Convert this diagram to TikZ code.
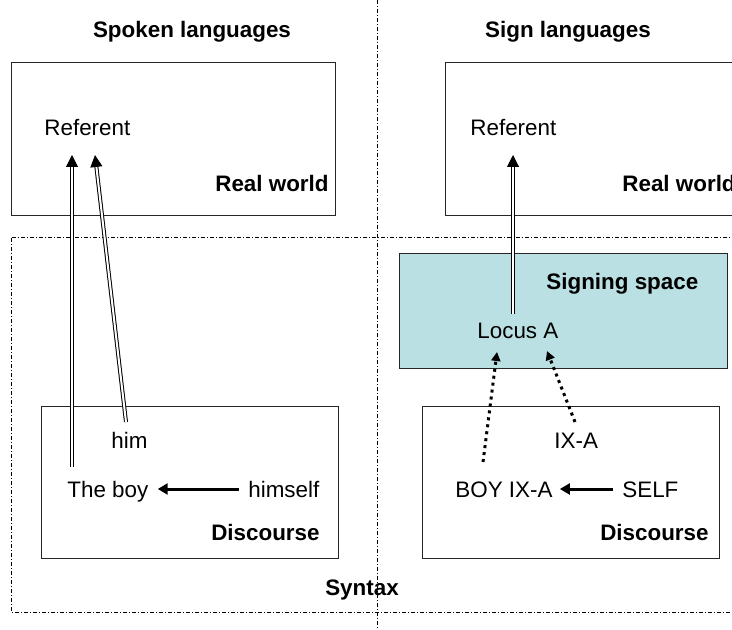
\documentclass[tikz,border=0pt]{standalone}
\usepackage{fontspec}
\setmainfont{Liberation Sans}
\usetikzlibrary{arrows.meta}
\definecolor{spacefill}{RGB}{186,224,228}

\begin{document}
\begin{tikzpicture}[x=0.5pt,y=-0.5pt]
    \tikzstyle{every node}=[font=\fontsize{11.2}{13}\selectfont, inner sep=0pt, text height=8pt, text depth=0pt]
    \tikzstyle{title}=[font=\fontsize{11.2}{13}\selectfont\bfseries]
    \tikzstyle{frame}=[draw=black!85, line width=0.5pt]
    \tikzstyle{border}=[line width=0.5pt, dash pattern=on 2pt off 1pt on 0.5pt off 1pt]
    \tikzstyle{link}=[double, double distance=1pt, line width=0.5pt, -{Triangle[length=6pt,width=6pt]}]
    \tikzstyle{refer}=[line width=1.5pt, -{Triangle[length=5pt,width=5.5pt]}]
    \tikzstyle{locate}=[line width=1.5pt, dotted, -{Triangle[length=4.5pt,width=4.5pt]}]

    \useasboundingbox (0,0) rectangle (732,630);
    \clip (0,0) rectangle (732,630);

    % the two halves
    \draw[border] (377,0) -- (377,630);
    \draw[border] (11,238) rectangle (760,612);
    \node[title] (spoken) at (192,30) {Spoken languages};
    \node[title] (sign) at (568,30) {Sign languages};
    \node[title] (syntax) at (362,587) {Syntax};

    % real world
    \draw[frame] (11,63) rectangle (335,216);
    \draw[frame] (445,63) rectangle (760,216);
    \node[anchor=west] (referent) at (44,128) {Referent};
    \node[anchor=west] (referentB) at (470,128) {Referent};
    \node[title, anchor=east] (world) at (329,184) {Real world};
    \node[title, anchor=west] (worldB) at (622,184) {Real world};

    % signing space
    \draw[frame, fill=spacefill] (399,254) rectangle (727,368);
    \node[title, anchor=west] (space) at (546,282) {Signing space};
    \node[anchor=west] (locus) at (477,330) {Locus A};

    % discourse
    \draw[frame] (41,406) rectangle (338,558);
    \draw[frame] (422,406) rectangle (719,558);
    \node[anchor=west] (him) at (111,440) {him};
    \node[anchor=west] (boy) at (67,489) {The boy};
    \node[anchor=west] (himself) at (248,489) {himself};
    \node[title, anchor=east] (discourse) at (320,532) {Discourse};
    \node[anchor=west] (ixa) at (554,440) {IX-A};
    \node[anchor=west] (boyixa) at (455,489) {BOY IX-A};
    \node[anchor=west] (self) at (622,489) {SELF};
    \node[title, anchor=east] (discourseB) at (709,532) {Discourse};

    % ends of the links
    \coordinate (boyup) at (72,467);
    \coordinate (himup) at (126,422);
    \coordinate (refA) at (72,155);
    \coordinate (refB) at (95,155);
    \coordinate (locusup) at (513,314);
    \coordinate (refC) at (513,155);
    \coordinate (boyixaup) at (483,462);
    \coordinate (ixadown) at (575,422);
    \coordinate (locusA) at (497,352);
    \coordinate (locusB) at (547,351);

    \draw[link] (boyup) -- (refA);
    \draw[link] (himup) -- (refB);
    \draw[link] (locusup) -- (refC);
    \draw[refer, shorten <=4.5pt, shorten >=4.5pt] (himself.west) -- (boy.east);
    \draw[refer, shorten <=4.5pt, shorten >=3.5pt] (self.west) -- (boyixa.east);
    \draw[locate] (boyixaup) -- (locusA);
    \draw[locate] (ixadown) -- (locusB);
\end{tikzpicture}
\end{document}
